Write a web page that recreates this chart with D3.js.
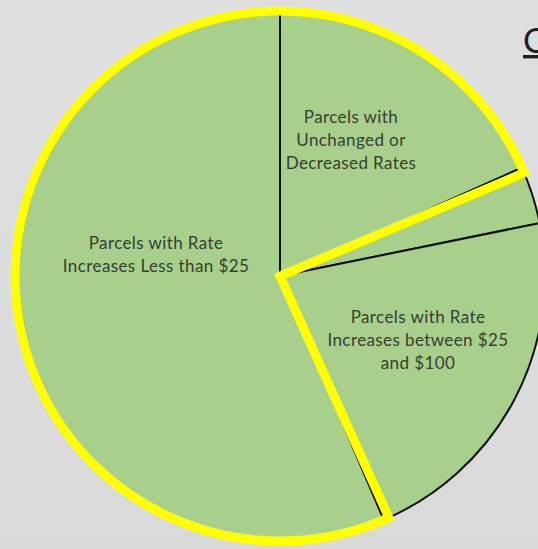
<!DOCTYPE html>
<html><head><meta charset="utf-8">
<script src="https://cdn.jsdelivr.net/npm/d3@7"></script>
<style>html,body{margin:0;padding:0;background:#dedddd;overflow:hidden}</style>
</head><body>
<script>
// ---- data ----
const categories = [
  "Parcels with Unchanged or Decreased Rates",
  "Parcels with Rate Increases over $100",
  "Parcels with Rate Increases between $25 and $100",
  "Parcels with Rate Increases Less than $25"
];
const shares = [18.3, 3.5, 21.8, 56.4];
const labelLines = [
  ["Parcels with", "Unchanged or", "Decreased Rates"],
  [],
  ["Parcels with Rate", "Increases between $25", "and $100"],
  ["Parcels with Rate", "Increases Less than $25"]
];
const highlighted = [true, false, false, true];
const titleText = "C";

// ---- layout ----
const W = 538, H = 549;
const cx = 280, cy = 276, R = 265;
// first-line centre of each label relative to the pie centre
const labelOffsets = [[71, -159], null, [138, 41], [-124, -33]];

const svg = d3.select("body").append("svg")
  .attr("width", W).attr("height", H);

const defs = svg.append("defs");
const grad = defs.append("linearGradient").attr("id", "bg").attr("x1", 0).attr("y1", 0).attr("x2", 0).attr("y2", 1);
grad.append("stop").attr("offset", "0%").attr("stop-color", "#e0dfe0");
grad.append("stop").attr("offset", "100%").attr("stop-color", "#dadada");
svg.append("rect").attr("width", W).attr("height", H).attr("fill", "url(#bg)");

const g = svg.append("g").attr("transform", `translate(${cx},${cy})`);

const pie = d3.pie().sort(null).value(d => d);
const arcs = pie(shares);
const arc = d3.arc().innerRadius(0).outerRadius(R);

g.selectAll("path.slice").data(arcs).join("path")
  .attr("class", "slice")
  .attr("d", arc)
  .attr("fill", "#a8d08c")
  .attr("stroke", "#111")
  .attr("stroke-width", 2)
  .attr("stroke-linejoin", "miter");

// highlight outline around the contiguous highlighted slices (wrapping through 12 o'clock)
const hi = arcs.filter((a, i) => highlighted[i]);
const pad = 0.021;
const hStart = d3.max(hi, a => a.startAngle) - pad;
const hEnd = d3.min(hi, a => a.endAngle) + 2 * Math.PI + pad;
g.append("path")
  .attr("d", d3.arc().innerRadius(0).outerRadius(R)({startAngle: hStart, endAngle: hEnd}))
  .attr("fill", "none")
  .attr("stroke", "#ffff00")
  .attr("stroke-width", 9)
  .attr("stroke-linejoin", "miter")
  .attr("stroke-miterlimit", 10);

// labels
const lh = 23;
arcs.forEach((a, i) => {
  const lines = labelLines[i];
  if (!lines.length) return;
  const [dx, dy] = labelOffsets[i];
  const t = g.append("text")
    .attr("text-anchor", "middle")
    .attr("font-family", "Lato, 'Open Sans', sans-serif")
    .attr("font-size", 17)
    .attr("letter-spacing", 0.4)
    .attr("fill", "#363d32");
  lines.forEach((ln, k) => {
    t.append("tspan").attr("x", dx).attr("y", dy + k * lh + 6).text(ln);
  });
});

// title (cut off at right edge, as in the reference)
svg.append("text")
  .attr("x", 523).attr("y", 53)
  .attr("font-family", "Lato, 'Open Sans', sans-serif")
  .attr("font-size", 34)
  .attr("fill", "#1f1f1f")
  .attr("text-decoration", "underline")
  .text(titleText);
</script>
</body></html>
